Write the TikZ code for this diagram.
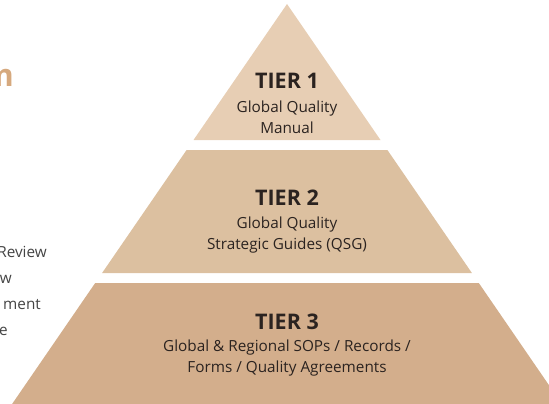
\documentclass[tikz,border=0pt]{standalone}
\usepackage{fontspec}
\setmainfont{Open Sans}
\definecolor{tierA}{HTML}{E7CEB4}
\definecolor{tierB}{HTML}{DCC0A0}
\definecolor{tierC}{HTML}{D3AE8C}
\definecolor{ink}{HTML}{2B2320}
\definecolor{side}{HTML}{444444}
\definecolor{accent}{HTML}{D6A97E}
\tikzset{
  tiertitle/.style={font=\fontsize{21.5}{24}\selectfont\bfseries, text=ink, inner sep=0pt},
  tierbody/.style={font=\fontsize{15.3}{21}\selectfont, text=ink, align=center, inner sep=0pt},
  sidetext/.style={font=\fontsize{15.3}{16}\selectfont, text=side, anchor=base east, inner sep=0pt},
}
\begin{document}
\begin{tikzpicture}[x=1pt,y=-1pt]
\useasboundingbox (0,0) rectangle (549,404);
\clip (0,0) rectangle (549,404);
% tiers
\fill[tierA] (287,4) -- (193.5,140) -- (380.5,140) -- cycle;
\fill[tierB] (186.6,150) -- (387.4,150) -- (471.9,273) -- (102.1,273) -- cycle;
\fill[tierC] (95.2,283) -- (478.8,283) -- (561.9,404) -- (12.1,404) -- cycle;
% texts
\node[tiertitle] (t1) at (287,81) {TIER 1};
\node[tierbody] (b1) at (287,117.5) {Global Quality\\Manual};
\node[tiertitle] (t2) at (287,198) {TIER 2};
\node[tierbody] (b2) at (287,235.5) {Global Quality\\Strategic Guides (QSG)};
\node[tiertitle] (t3) at (287,322) {TIER 3};
\node[tierbody] (b3) at (287,358.5) {Global \& Regional SOPs / Records /\\Forms / Quality Agreements};
% left, cut-off texts
\node[font=\fontsize{31}{32}\selectfont\bfseries, text=accent, anchor=base east, inner sep=0pt] (m) at (14,87) {m};
\node[sidetext] (s1) at (47,257) {Review};
\node[sidetext] (s2) at (12,283) {w};
\node[sidetext] (s3) at (41,309) {ment};
\node[sidetext] (s4) at (8,335) {e};
\end{tikzpicture}
\end{document}
